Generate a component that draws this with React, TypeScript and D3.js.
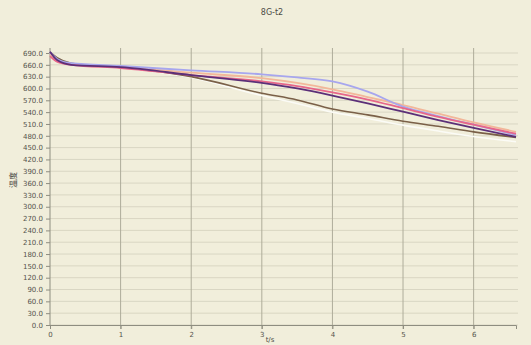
import React, { useEffect, useRef } from "react";
import * as d3 from "d3";

// chart data
const times = [0, 0.1, 0.3, 1, 2, 3, 3.5, 4, 4.5, 5, 5.5, 6, 6.6];
const blueSeries = [692, 675, 664, 657, 646, 636, 628, 618, 592, 554, 530, 508, 482];
const purpleSeries = [693, 672, 660, 654, 634, 614, 600, 582, 562, 541, 520, 500, 477];
const redSeries = [682, 668, 660, 652, 634, 618, 606, 590, 572, 550, 528, 508, 485];
const orangeSeries = [686, 670, 662, 655, 640, 626, 614, 598, 578, 558, 536, 514, 490];
const brownSeries = [692, 678, 664, 654, 630, 588, 571, 548, 533, 517, 504, 490, 476];
const whiteSeries = [690, 674, 663, 653, 628, 582, 562, 540, 524, 507, 492, 478, 465];
const yTicks = d3.range(0, 691, 30);
const xTicks = [0, 1, 2, 3, 4, 5, 6];
const titleText = "8G-t2";
const xLabel = "t/s";
const yLabel = "温度";

const series = [
  { values: whiteSeries, color: "#fbfbf6", width: 1.6 },
  { values: brownSeries, color: "#7a6048", width: 1.6 },
  { values: orangeSeries, color: "#f2b79a", width: 1.8 },
  { values: blueSeries, color: "#a7a6ee", width: 1.8 },
  { values: redSeries, color: "#e7668a", width: 1.8 },
  { values: purpleSeries, color: "#5b2f78", width: 1.8 },
];

function App() {
  const ref = useRef(null);

  useEffect(() => {
    const svg = d3.select(ref.current);
    svg.selectAll("*").remove();

    const width = 531;
    const height = 345;
    const left = 50;
    const right = 518;
    const top = 48;
    const bottom = 325;

    const xScale = d3.scaleLinear().domain([0, 6.6]).range([left, 516]);
    const yScale = d3.scaleLinear().domain([0, 690]).range([bottom, 53]);

    // background
    svg.append("rect").attr("width", width).attr("height", height).attr("fill", "#f1eedb");

    // horizontal grid
    svg
      .append("g")
      .selectAll("line")
      .data(yTicks)
      .join("line")
      .attr("x1", left)
      .attr("x2", right)
      .attr("y1", (d) => yScale(d))
      .attr("y2", (d) => yScale(d))
      .attr("stroke", "#d9d6c3")
      .attr("stroke-width", 1);

    // vertical grid
    svg
      .append("g")
      .selectAll("line")
      .data(xTicks.slice(1))
      .join("line")
      .attr("x1", (d) => xScale(d))
      .attr("x2", (d) => xScale(d))
      .attr("y1", top)
      .attr("y2", bottom + 4)
      .attr("stroke", "#aeac9a")
      .attr("stroke-width", 1);

    // axes
    const yAxis = svg
      .append("g")
      .attr("transform", `translate(${left},0)`)
      .call(d3.axisLeft(yScale).tickValues(yTicks).tickFormat((d) => d3.format(".1f")(d)).tickSize(4));
    const xAxis = svg
      .append("g")
      .attr("transform", `translate(0,${bottom})`)
      .call(d3.axisBottom(xScale).tickValues(xTicks).tickFormat(d3.format("d")).tickSize(4));
    [yAxis, xAxis].forEach((g) => {
      g.select(".domain").attr("stroke", "#8e8d80");
      g.selectAll(".tick line").attr("stroke", "#8e8d80");
      g.selectAll("text")
        .attr("fill", "#55544d")
        .attr("font-family", "DejaVu Sans, sans-serif")
        .attr("font-size", 7);
    });
    yAxis.select(".domain").attr("d", `M-0,${top}V${bottom}`);

    // lines
    const line = d3
      .line()
      .x((d, i) => xScale(times[i]))
      .y((d) => yScale(d))
      .curve(d3.curveMonotoneX);

    svg
      .append("g")
      .selectAll("path")
      .data(series)
      .join("path")
      .attr("d", (s) => line(s.values))
      .attr("fill", "none")
      .attr("stroke", (s) => s.color)
      .attr("stroke-width", (s) => s.width)
      .attr("stroke-linejoin", "round");

    // labels
    svg
      .append("text")
      .attr("x", 272)
      .attr("y", 15)
      .attr("text-anchor", "middle")
      .attr("font-family", "DejaVu Sans, sans-serif")
      .attr("font-size", 8)
      .attr("fill", "#4c4b45")
      .text(titleText);
    svg
      .append("text")
      .attr("x", 270)
      .attr("y", 342)
      .attr("text-anchor", "middle")
      .attr("font-family", "DejaVu Sans, sans-serif")
      .attr("font-size", 7)
      .attr("fill", "#4c4b45")
      .text(xLabel);
    svg
      .append("text")
      .attr("transform", "translate(16,180) rotate(-90)")
      .attr("text-anchor", "middle")
      .attr("font-family", "Noto Sans CJK SC, sans-serif")
      .attr("font-size", 8)
      .attr("fill", "#4c4b45")
      .text(yLabel);
  }, []);

  return (
    <svg
      ref={ref}
      width={531}
      height={345}
      style={{ position: "absolute", left: 0, top: 0 }}
    ></svg>
  );
}

export default App;
